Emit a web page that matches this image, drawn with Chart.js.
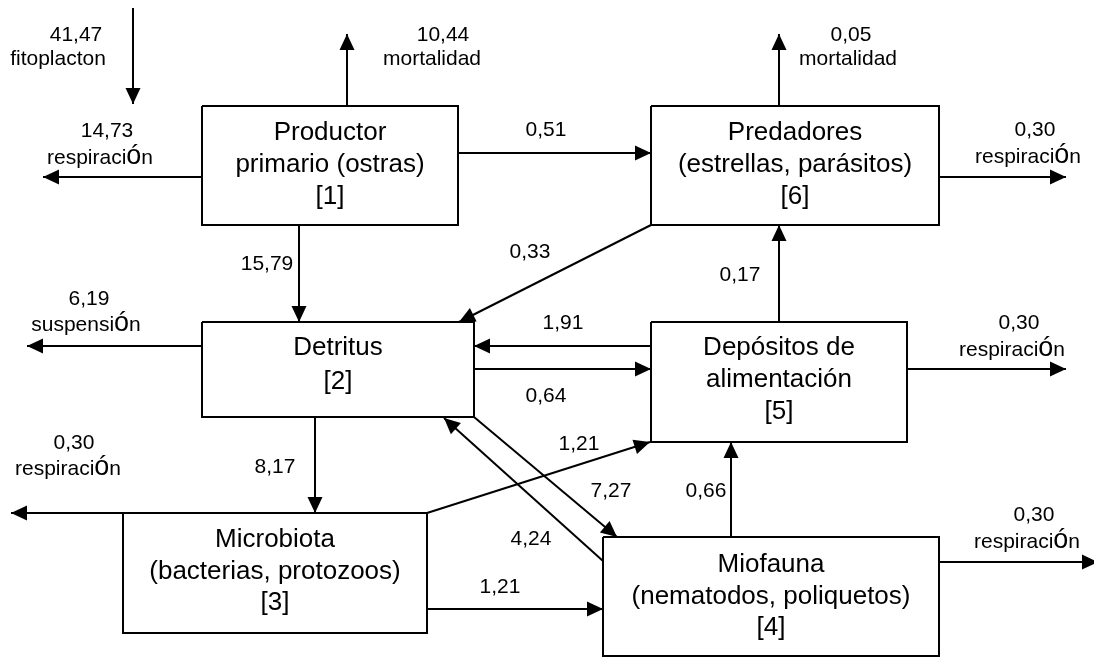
<!DOCTYPE html>
<html>
<head>
<meta charset="utf-8">
<script src="https://cdn.jsdelivr.net/npm/chart.js@4/dist/chart.umd.min.js"></script>
<style>
html,body{margin:0;padding:0;background:#fff;}
canvas{display:block;}
</style>
</head>
<body>
<canvas id="c" width="1094" height="657"></canvas>
<script>
// ---- data ----
const compartmentLines = [
  ["Productor", "primario (ostras)", "[1]"],
  ["Predadores", "(estrellas, parásitos)", "[6]"],
  ["Detritus", "[2]"],
  ["Depósitos de", "alimentación", "[5]"],
  ["Microbiota", "(bacterias, protozoos)", "[3]"],
  ["Miofauna", "(nematodos, poliquetos)", "[4]"]
];
const flowValues = [41.47, 10.44, 14.73, 0.51, 15.79, 0.05, 0.30, 0.33, 0.17, 1.91, 0.64, 6.19, 0.30, 8.17, 0.30, 1.21, 7.27, 4.24, 0.66, 1.21, 0.30];
const flowNames  = ["fitoplacton", "mortalidad", "respiración", "", "", "mortalidad", "respiración", "", "", "", "", "suspensión", "respiración", "", "respiración", "", "", "", "", "", "respiración"];

// ---- layout (positions in diagram units) ----
const boxRects = [
  [202,106,458,225],
  [651,106,939,225],
  [202,322,474,417],
  [651,322,907,442],
  [123,513,427,633],
  [603,537,939,656]
];
const boxTextY = [
  [133,165,197],
  [133,165,197],
  [348,382],
  [348,380,412],
  [540,572,603],
  [565,597,628]
];
const flowPaths = [
  [133,8,133,104],
  [347,106,347,34],
  [202,177,43,177],
  [458,153,651,153],
  [299,225,299,322],
  [779,106,779,34],
  [939,177,1066,177],
  [651,225,459,322],
  [779,322,779,225],
  [651,346,474,346],
  [474,369,651,369],
  [202,346,27,346],
  [907,369,1066,369],
  [315,417,315,513],
  [123,513,11,513],
  [427,513,650,442],
  [474,417,617,537],
  [603,561,444,418],
  [731,537,731,442],
  [427,609,603,609],
  [939,562,1098,562]
];
const valuePos = [
  [76,33],[443,33],[107,129],[546,128],[267,262],[851,33],[1035,128],[530,250],[740,273],[563,321],
  [546,394],[89,297],[1019,321],[275,465],[74,441],[579,442],[611,489],[531,537],[706,489],[500,585],[1034,513]
];
const namePos = [
  [58,57],[432,57],[100,156],null,null,[848,57],[1028,155],null,null,null,
  null,[86,323],[1012,348],null,[68,467],null,null,null,null,null,[1027,540]
];

const FONT = '"Liberation Sans", Arial, Helvetica, sans-serif';
const fmt = v => v.toFixed(2).replace('.', ',');

const datasets = [];
boxRects.forEach(r => {
  datasets.push({
    data: [{x:r[0],y:r[1]},{x:r[2],y:r[1]},{x:r[2],y:r[3]},{x:r[0],y:r[3]},{x:r[0],y:r[1]}],
    showLine: true, borderColor: '#000', borderWidth: 2, pointRadius: 0, tension: 0, clip: false, fill: false
  });
});
flowPaths.forEach(p => {
  datasets.push({
    data: [{x:p[0],y:p[1]},{x:p[2],y:p[3]}],
    showLine: true, borderColor: '#000', borderWidth: 2, pointRadius: 0, tension: 0, clip: false, fill: false
  });
});

// label text: the accented "ó" is drawn in a larger glyph, as in the source figure
function drawLabel(ctx, text, cx, cy) {
  const base = '21px ' + FONT, big = '27px ' + FONT;
  const parts = text.split(/(ó)/).filter(s => s.length);
  let total = 0;
  const widths = parts.map(s => { ctx.font = (s === 'ó') ? big : base; const w = ctx.measureText(s).width; total += w; return w; });
  let x = cx - total / 2;
  ctx.textAlign = 'left';
  parts.forEach((s, i) => {
    ctx.font = (s === 'ó') ? big : base;
    ctx.fillText(s, x, cy + (s === 'ó' ? 0 : 0));
    x += widths[i];
  });
}

const diagramPlugin = {
  id: 'diagram',
  beforeDraw(chart) {
    const ctx = chart.ctx;
    ctx.save();
    ctx.fillStyle = '#fff';
    ctx.fillRect(0, 0, chart.width, chart.height);
    ctx.restore();
  },
  afterDatasetsDraw(chart) {
    const ctx = chart.ctx;
    const xs = chart.scales.x, ys = chart.scales.y;
    const px = v => xs.getPixelForValue(v), py = v => ys.getPixelForValue(v);
    ctx.save();
    // arrowheads
    ctx.fillStyle = '#000';
    flowPaths.forEach(p => {
      const x1 = px(p[0]), y1 = py(p[1]), x2 = px(p[2]), y2 = py(p[3]);
      const a = Math.atan2(y2 - y1, x2 - x1);
      const L = 16, W = 7.5;
      ctx.beginPath();
      ctx.moveTo(x2, y2);
      ctx.lineTo(x2 - L*Math.cos(a) + W*Math.sin(a), y2 - L*Math.sin(a) - W*Math.cos(a));
      ctx.lineTo(x2 - L*Math.cos(a) - W*Math.sin(a), y2 - L*Math.sin(a) + W*Math.cos(a));
      ctx.closePath();
      ctx.fill();
    });
    // compartment texts
    ctx.textAlign = 'center';
    ctx.textBaseline = 'middle';
    ctx.font = '26px ' + FONT;
    compartmentLines.forEach((lines, i) => {
      const r = boxRects[i];
      const cx = px((r[0] + r[2]) / 2);
      lines.forEach((t, j) => ctx.fillText(t, cx, py(boxTextY[i][j])));
    });
    // flow labels
    ctx.textBaseline = 'alphabetic';
    flowValues.forEach((v, i) => {
      ctx.font = '21px ' + FONT;
      ctx.textAlign = 'center';
      ctx.fillText(fmt(v), px(valuePos[i][0]), py(valuePos[i][1]) + 7.5);
      if (flowNames[i] && namePos[i]) drawLabel(ctx, flowNames[i], px(namePos[i][0]), py(namePos[i][1]) + 7.5);
    });
    ctx.restore();
  }
};

new Chart(document.getElementById('c'), {
  type: 'scatter',
  data: { datasets },
  options: {
    responsive: false,
    animation: false,
    events: [],
    layout: { padding: 0 },
    plugins: { legend: { display: false }, tooltip: { enabled: false } },
    scales: {
      x: { type: 'linear', min: 0, max: 1094, display: false },
      y: { type: 'linear', min: 0, max: 657, reverse: true, display: false }
    }
  },
  plugins: [diagramPlugin]
});
</script>
</body>
</html>
